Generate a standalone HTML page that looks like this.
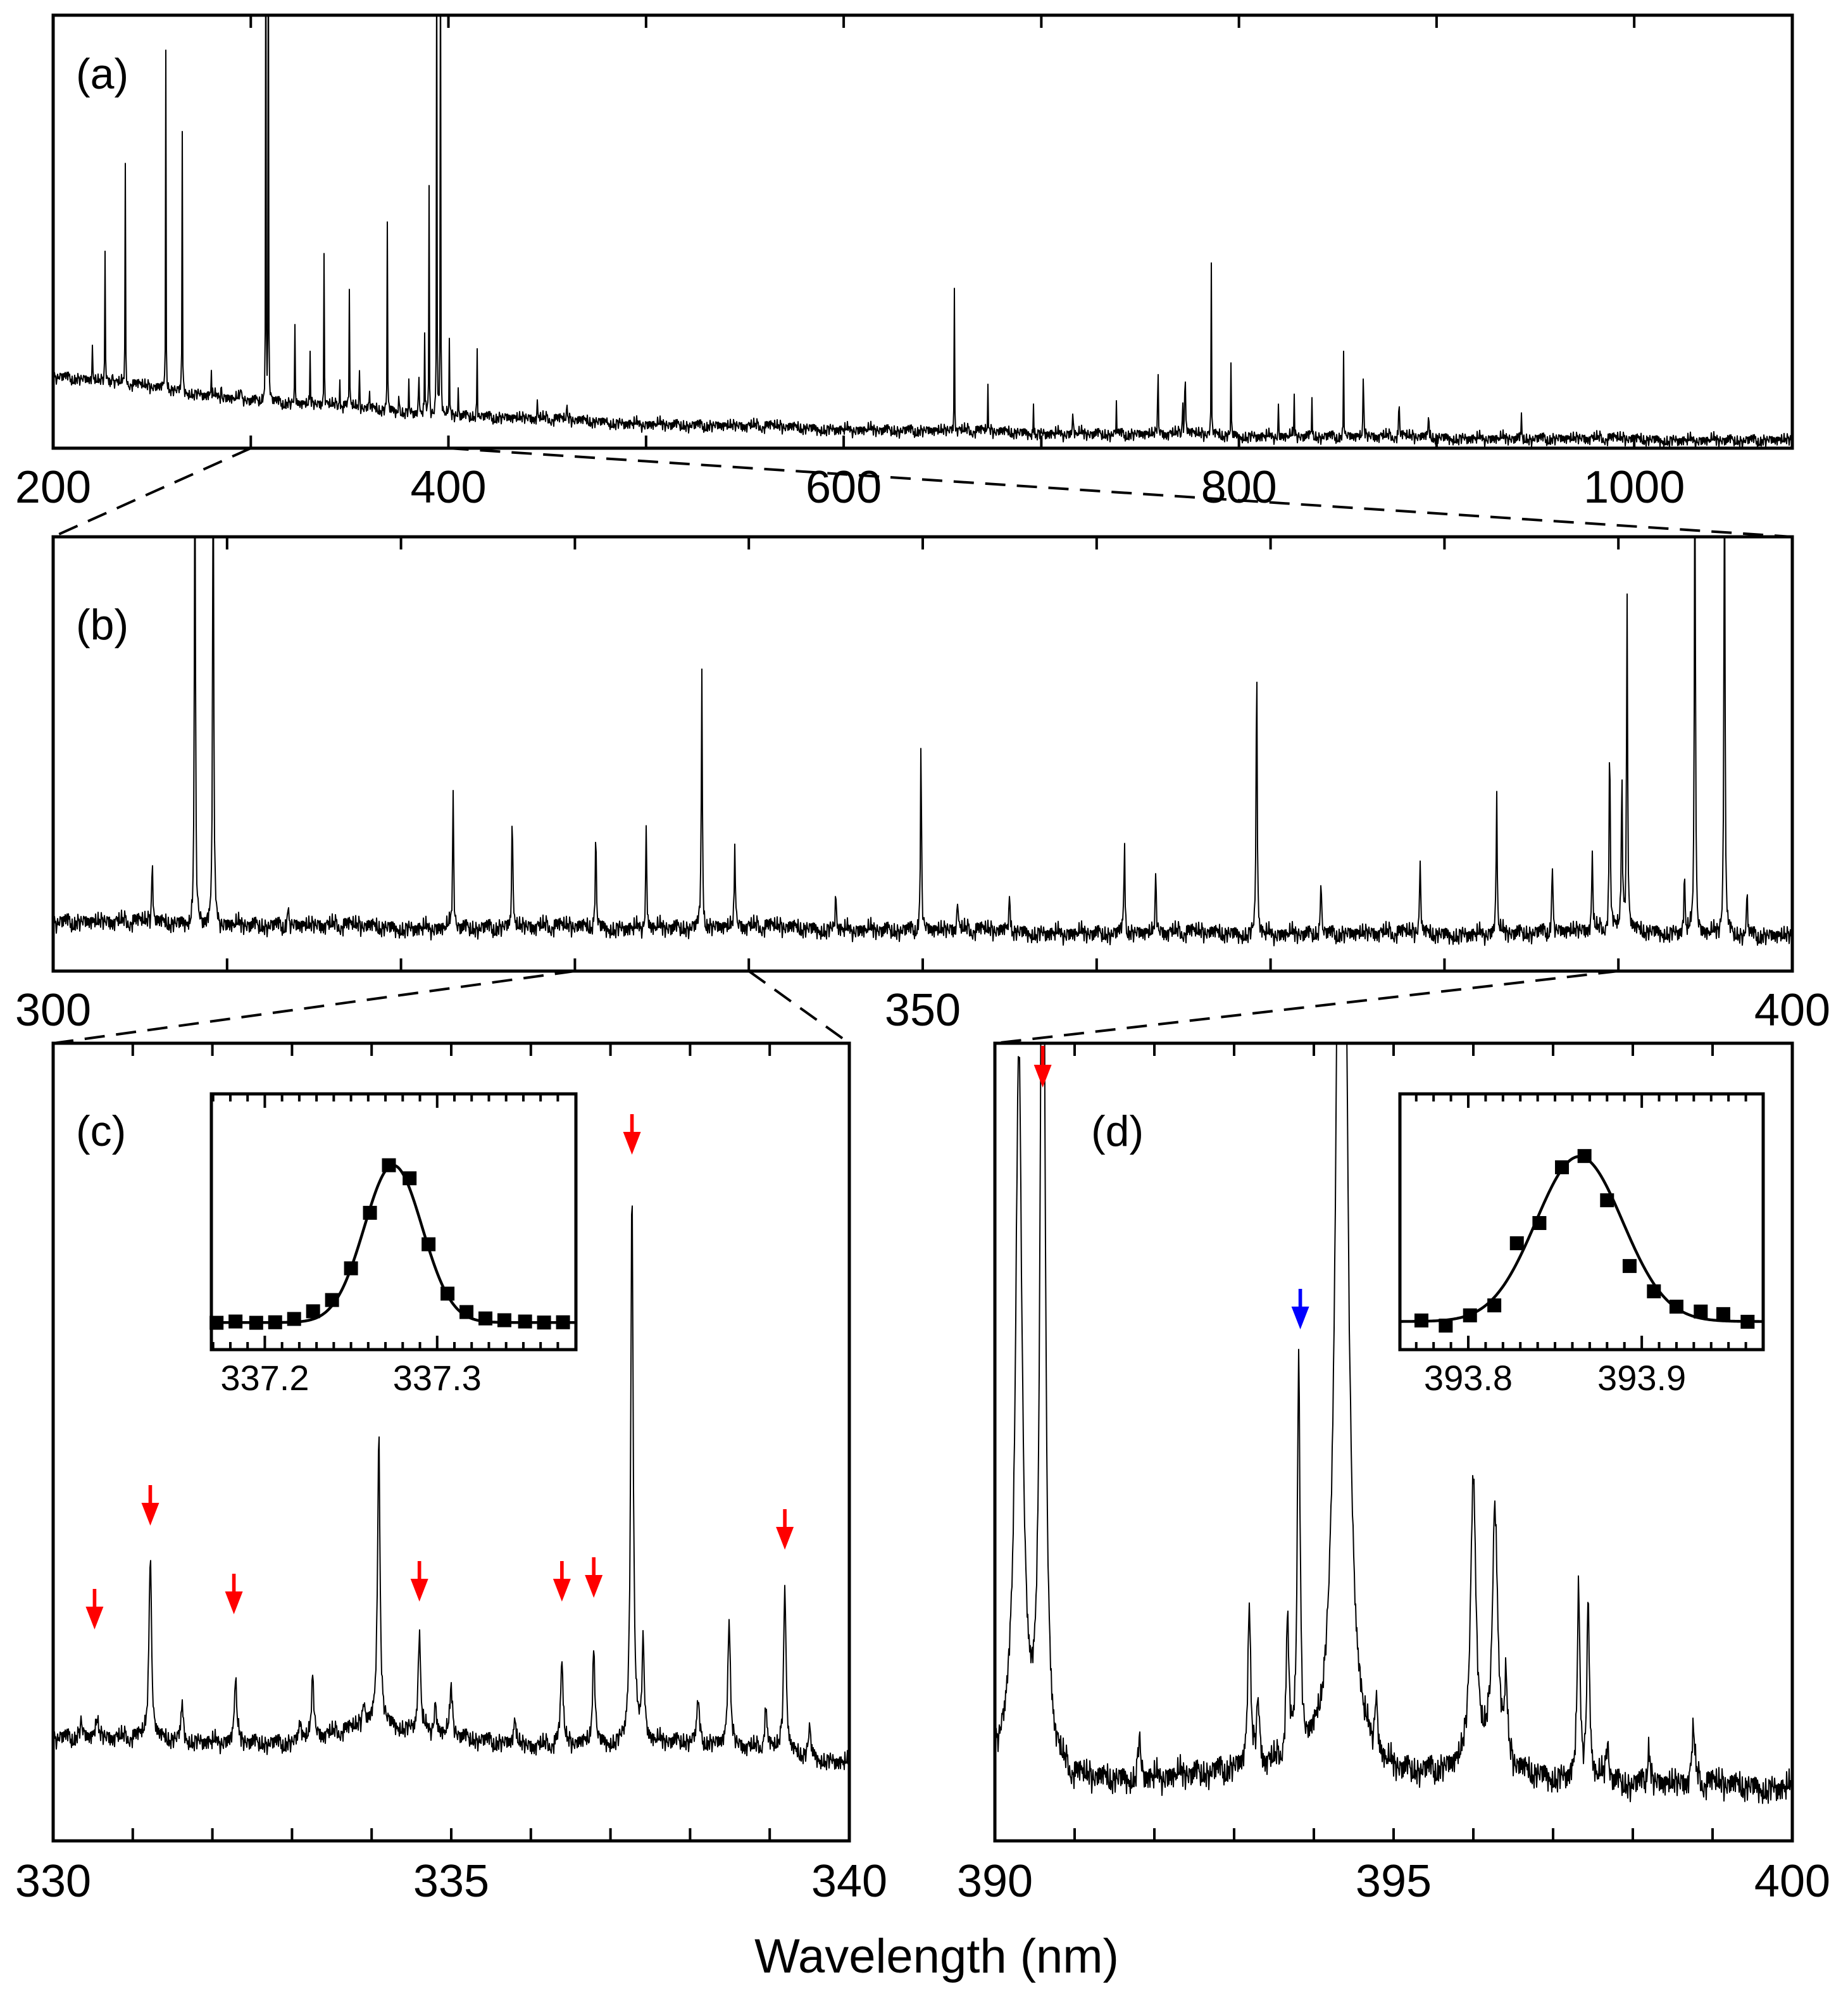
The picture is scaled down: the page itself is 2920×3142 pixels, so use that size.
<!DOCTYPE html>
<html><head><meta charset="utf-8"><style>
html,body{margin:0;padding:0;background:#fff;}
svg{display:block;}
text{font-family:"Liberation Sans",Arial,sans-serif;fill:#000;}
</style></head><body>
<svg id="fig" width="2920" height="3142" viewBox="0 0 1460 1571" xmlns="http://www.w3.org/2000/svg">
<g id="layer"></g>
</svg>
<script>
// ---------- DATA ----------
const noise = [0.2,-0.6,0.9,-0.3,0.5,-1.0,0.1,0.7,-0.4,0.3,-0.8,0.6,-0.1,0.9,-0.5,0.2,-0.9,0.4,-0.2,0.8,-0.7,0.0,0.6,-0.4,1.0,-0.3,0.3,-0.6,0.5,-0.9,0.7,-0.2,0.1,-0.5,0.8,-0.8,0.4];
// panel a
const aBaseNm = [200,250,300,350,400,500,600,700,800,1000,1080];
const aBaseI  = [16.7,14,11,9.4,7.6,5.6,4.4,3.5,2.9,2.0,1.8];
const aPeakNm = [219.9,226.3,236.5,257.0,265.3,307.6,308.9,322.3,337.1,349.9,369.1,390.2,394.1,396.0,400.5,414.5,230,280,285,295,330,345,355,360,375,380,385,388,405,445,460,480,656,673,696,716,738,759,771.5,772.5,773,786,796,820,828,837,853,863,881,896,943];
const aPeakH  = [9.4,33.6,50.3,76.9,62.3,120,120,18.7,38.9,27.5,45,53,120,120,17,19,5,7,6,6,12,9,8,6,10,7,15,19,7,4,4,3,34,9.4,8.5,9.6,7,27,15,12,19.3,40.6,18.4,7.6,9.4,11,22,27,15.5,10,6.4];
// panel b
const bBaseNm = [300,320,340,360,380,390,400];
const bBaseI  = [11.4,10,10,8.7,8.5,9.3,7.9];
const bPeakNm = [305.7,308.15,309.2,313.5,323.0,326.4,331.2,334.1,337.3,339.2,345,349.9,352,355,361.6,363.4,369.2,372.9,378.6,383.0,386.2,388.5,389.5,390.2,390.5,393.8,394.4,396.1,397.4];
const bPeakH  = [15.5,120,120,5,31.5,27.7,22.7,23.3,58.3,19,10,42.9,8,10,22.4,13.7,66.8,15,17.8,32.6,17,18,45,36,77.6,14,120,120,10];
// panel c
const cBaseNm = [330,333,334.1,336,338,340];
const cBaseI  = [13,12.2,14.6,11.7,12.5,9.8];
const cPeakNm = [330.35,330.55,331.22,331.62,332.29,333.1,333.26,333.9,334.09,334.6,334.8,335.0,335.8,336.39,336.79,337.27,337.41,338.1,338.49,338.95,339.19,339.5];
const cPeakH  = [2,2.5,23.8,4.4,7.8,2.5,7.5,3,36.8,12.2,3.5,6,3,10.3,11.9,70,12.7,5,16,5,21.3,3.6];
// panel d
const dBaseNm = [390,390.8,391,392,393,395,396,397,398,400];
const dBaseI  = [10,7.8,7,7.8,8.6,7.8,8.6,7.8,7,6.7];
const dPeakNm = [390.30,390.60,391.81,393.19,393.30,393.67,393.81,394.35,394.78,396.0,396.27,396.41,397.32,397.44,397.68,398.2,398.76];
const dPeakH  = [89,150,5,20.6,8,17,49.7,200,7,36.5,33,10,23,22,5,5,7];
const dPeakW  = [0.05,0.03,0.02,0.02,0.02,0.02,0.02,0.06,0.02,0.04,0.04,0.02,0.02,0.02,0.02,0.02,0.02];
// arrows
const cRedArrowNm = [330.52,331.22,332.27,334.6,336.39,336.79,337.27,339.19];
const cRedArrowTip = [1287,1205,1275,1265,1265,1262,912,1224];
const dRedArrowNm = [390.6];
const dBlueArrowNm = [393.83];
// insets
const icNm = [337.172,337.183,337.195,337.206,337.217,337.228,337.239,337.250,337.261,337.272,337.284,337.295,337.306,337.317,337.328,337.339,337.351,337.362,337.373];
const icI  = [0.105,0.110,0.105,0.107,0.120,0.150,0.194,0.318,0.535,0.721,0.670,0.412,0.219,0.147,0.122,0.115,0.110,0.106,0.107];
const icFit = [337.2745,0.615,0.106,0.0168];
const idNm = [393.773,393.787,393.801,393.815,393.828,393.841,393.854,393.867,393.880,393.893,393.907,393.920,393.934,393.947,393.961];
const idI  = [0.114,0.094,0.134,0.173,0.416,0.495,0.713,0.757,0.584,0.327,0.228,0.168,0.149,0.139,0.109];
const idFit = [393.864,0.645,0.11,0.025];

// ---------- DRAW ----------
const NS="http://www.w3.org/2000/svg";
const L=document.getElementById('layer');
function mk(tag,attrs,parent){const e=document.createElementNS(NS,tag);for(const k in attrs)e.setAttribute(k,attrs[k]);(parent||L).appendChild(e);return e;}
function interp(xs,ys,x){if(x<=xs[0])return ys[0];for(let i=1;i<xs.length;i++){if(x<=xs[i]){const t=(x-xs[i-1])/(xs[i]-xs[i-1]);return ys[i-1]+t*(ys[i]-ys[i-1]);}}return ys[ys.length-1];}

function panel(id,box,x0,x1,baseNm,baseI,pNm,pH,pW,defW,noiseAmp,step){
  const sx=v=>box.x+(v-x0)/(x1-x0)*box.w;
  const sy=v=>box.y+box.h-v/100*box.h;
  const clip=mk('clipPath',{id:'clip-'+id});
  mk('rect',{x:box.x,y:box.y,width:box.w,height:box.h},clip);
  let pts=[];let n=Math.round(box.w/step);
  for(let i=0;i<=n;i++){
    const x=x0+(x1-x0)*i/n;
    let v=interp(baseNm,baseI,x)+noise[i%noise.length]*noiseAmp+noise[(i*7+3)%noise.length]*noiseAmp*0.5+noise[(Math.floor(i/9)*5+1)%noise.length]*noiseAmp*0.6;
    for(let k=0;k<pNm.length;k++){const w=pW?pW[k]:defW;const d=(x-pNm[k])/w;v+=pH[k]/(1+d*d);}
    pts.push(sx(x).toFixed(2)+','+sy(v).toFixed(2));
  }
  const pl=mk('polyline',{points:pts.join(' '),fill:'none',stroke:'#000','stroke-width':1.0,'stroke-linejoin':'round','clip-path':'url(#clip-'+id+')'});
  
  
  return {sx,sy};
}
function frame(id,box){
  const r=mk('rect',{x:box.x,y:box.y,width:box.w,height:box.h,fill:'none',stroke:'#000','stroke-width':2.5});
  
  
}
function ticks(box,x0,x1,step,len,major,majLen,sw){
  const start=Math.ceil(x0/step-1e-6);
  for(let i=start;i*step<=x1+1e-9;i++){
    const v=i*step;const x=box.x+(v-x0)/(x1-x0)*box.w;
    if(x<=box.x+1||x>=box.x+box.w-1)continue;
    const isMaj=major&&Math.abs(v/major-Math.round(v/major))<1e-6;
    const l=isMaj?majLen:len;
    mk('line',{x1:x,y1:box.y+box.h,x2:x,y2:box.y+box.h-l,stroke:'#000','stroke-width':sw});
    mk('line',{x1:x,y1:box.y,x2:x,y2:box.y+l,stroke:'#000','stroke-width':sw});
  }
}
function label(txt,x,y,size,name,anchor){
  const t=mk('text',{x:x,y:y,'font-size':size,'text-anchor':anchor||'middle'});
  t.textContent=txt;
  
  
  return t;
}
function dash(x1,y1,x2,y2){
  const l=mk('line',{x1,y1,x2,y2,stroke:'#000','stroke-width':2,'stroke-dasharray':'16,9'});
  
  
}
function arrow(x,tip,color,name,top){
  const g=mk('g',{});
  
  
  const y0=top!==undefined?top:tip-32;
  mk('line',{x1:x,y1:y0,x2:x,y2:tip-15,stroke:color,'stroke-width':2.8},g);
  mk('polygon',{points:(x-7)+','+(tip-18)+' '+(x+7)+','+(tip-18)+' '+x+','+tip,fill:color},g);
}

// Panel a
const A={x:42,y:12,w:1374,h:342};
const pa=panel('a',A,200,1080,aBaseNm,aBaseI,aPeakNm,aPeakH,null,0.12,1.1,0.5);
ticks(A,200,1080,100,10,0,10,2);
frame('a',A);
[200,400,600,800,1000].forEach(v=>label(String(v),pa.sx(v),397,36,'x-tick-label-a'));
label('(a)',60,70,34,'panel-label-a','start');

// Panel b
const B={x:42,y:424,w:1374,h:343};
const pb=panel('b',B,300,400,bBaseNm,bBaseI,bPeakNm,bPeakH,null,0.035,1.6,0.5);
ticks(B,300,400,10,10,0,10,2);
frame('b',B);
[300,350,400].forEach(v=>label(String(v),pb.sx(v),810,36,'x-tick-label-b'));
label('(b)',60,505,34,'panel-label-b','start');

// Panel c
const C={x:42,y:824,w:629,h:630};
const pc=panel('c',C,330,340,cBaseNm,cBaseI,cPeakNm,cPeakH,null,0.018,0.9,0.5);
ticks(C,330,340,1,10,0,10,2);
frame('c',C);
[330,335,340].forEach(v=>label(String(v),pc.sx(v),1498,36,'x-tick-label-c'));
label('(c)',60,905,34,'panel-label-c','start');
cRedArrowNm.forEach((v,i)=>arrow(pc.sx(v),cRedArrowTip[i],'#ff0000','red-arrow-c'));

// Panel d
const D={x:786,y:824,w:630,h:630};
const pd=panel('d',D,390,400,dBaseNm,dBaseI,dPeakNm,dPeakH,dPeakW,0.02,1.4,0.5);
ticks(D,390,400,1,10,0,10,2);
frame('d',D);
[390,395,400].forEach(v=>label(String(v),pd.sx(v),1498,36,'x-tick-label-d'));
label('(d)',862,905,34,'panel-label-d','start');
dRedArrowNm.forEach(v=>arrow(pd.sx(v),859,'#ff0000','red-arrow-d',826));
dBlueArrowNm.forEach(v=>arrow(pd.sx(v),1050,'#0000ff','blue-arrow-d'));

// guide lines
dash(pa.sx(300),354,42,424);
dash(pa.sx(400),354,1416,424);
dash(pb.sx(330),767,42,824);
dash(pb.sx(340),767,671,824);
dash(pb.sx(390),767,786,824);

// insets
function inset(id,box,x0,x1,nm,iv,fit,labels){
  mk('rect',{x:box.x,y:box.y,width:box.w,height:box.h,fill:'#fff',stroke:'none'});
  const sx=v=>box.x+(v-x0)/(x1-x0)*box.w;
  const sy=v=>box.y+box.h-v*box.h;
  let pts=[];
  for(let i=0;i<=300;i++){const x=x0+(x1-x0)*i/300;const d=(x-fit[0])/fit[3];const v=fit[2]+fit[1]*Math.exp(-0.5*d*d);pts.push(sx(x).toFixed(2)+','+sy(v).toFixed(2));}
  const c=mk('polyline',{points:pts.join(' '),fill:'none',stroke:'#000','stroke-width':2.2});
  
  
  nm.forEach((v,i)=>{
    const r=mk('rect',{x:sx(v)-5.5,y:sy(iv[i])-5.5,width:11,height:11,fill:'#000'});
    
    
  });
  ticks(box,x0,x1,0.01,6,0.1,11,2);
  frame('inset-'+id,box);
  labels.forEach(v=>label(v.toFixed(1),sx(v),1098,28,'inset-tick-label-'+id));
}
inset('c',{x:167,y:864,w:288,h:202},337.169,337.3805,icNm,icI,icFit,[337.2,337.3]);
inset('d',{x:1106,y:864,w:287,h:202},393.7606,393.97,idNm,idI,idFit,[393.8,393.9]);

label('Wavelength (nm)',740,1558,38,'x-axis-title');
</script>
</body></html>
